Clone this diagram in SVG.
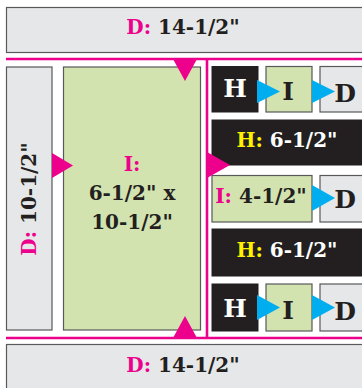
<svg xmlns="http://www.w3.org/2000/svg" width="362" height="388" viewBox="0 0 362 388">
<style>
.gray{fill:#e6e7e8;stroke:#58595b;stroke-width:1.2}
.green{fill:#d3e3b0;stroke:#58595b;stroke-width:1.2}
.black{fill:#231f20;stroke:#231f20;stroke-width:1}
.t{font-family:"DejaVu Serif","Liberation Serif",serif;font-weight:bold;font-size:20px;fill:#231f20;text-anchor:middle}
.w{fill:#ffffff}
.pk{fill:#ec008c}
.yl{fill:#fff200}
.big{font-size:25px}
.pline{stroke:#ec008c;stroke-width:2.6;fill:none}
.tri{fill:#ec008c}
.btri{fill:#00aeef}
</style>
<g id="top-d">
<rect class="gray" x="6.5" y="7.5" width="370" height="45"/>
<text class="t" x="183" y="34"><tspan class="pk">D:</tspan> 14-1/2"</text>
</g>
<g id="left-d">
<rect class="gray" x="6.5" y="67" width="45.5" height="263"/>
<text class="t" transform="translate(36,199) rotate(-90)"><tspan class="pk">D:</tspan> 10-1/2"</text>
</g>
<g id="main-i">
<rect class="green" x="63.5" y="67" width="137" height="263"/>
<text class="t" x="132" y="171"><tspan class="pk">I:</tspan></text>
<text class="t" x="132" y="200">6-1/2" x</text>
<text class="t" x="132" y="229">10-1/2"</text>
</g>
<g id="row1">
<rect class="black" x="212" y="66.5" width="46" height="45.5"/>
<text class="t w big" x="235" y="97">H</text>
<rect class="green" x="266" y="66.5" width="46" height="45.5"/>
<text class="t big" x="288" y="100">I</text>
<rect class="gray" x="320" y="66.5" width="60" height="45.5"/>
<text class="t big" x="345" y="102">D</text>
</g>
<g id="row2">
<rect class="black" x="212" y="120" width="160" height="45"/>
<text class="t w" x="287" y="147"><tspan class="yl">H:</tspan> 6-1/2"</text>
</g>
<g id="row3">
<rect class="green" x="212" y="175.5" width="100" height="46.5"/>
<text class="t" x="261" y="203"><tspan class="pk">I:</tspan> 4-1/2"</text>
<rect class="gray" x="320" y="175.5" width="60" height="46.5"/>
<text class="t big" x="345" y="208">D</text>
</g>
<g id="row4">
<rect class="black" x="212" y="229" width="160" height="47"/>
<text class="t w" x="287" y="257"><tspan class="yl">H:</tspan> 6-1/2"</text>
</g>
<g id="row5">
<rect class="black" x="212" y="284" width="46" height="47"/>
<text class="t w big" x="235" y="317">H</text>
<rect class="green" x="266" y="284" width="46" height="47"/>
<text class="t big" x="288" y="319">I</text>
<rect class="gray" x="320" y="284" width="60" height="47"/>
<text class="t big" x="345" y="320">D</text>
</g>
<g id="bottom-d">
<rect class="gray" x="6.5" y="344.5" width="370" height="50"/>
<text class="t" x="183" y="372"><tspan class="pk">D:</tspan> 14-1/2"</text>
</g>
<g id="connectors">
<line class="pline" x1="6" y1="59" x2="362" y2="59"/>
<line class="pline" x1="6" y1="338" x2="362" y2="338"/>
<line class="pline" x1="207" y1="59" x2="207" y2="338"/>
<polygon class="tri" points="173,59 197,59 185,81"/>
<polygon class="tri" points="173,338 197,338 185,316"/>
<polygon class="tri" points="52,153 52,178 73,165.5"/>
<polygon class="tri" points="207,152 207,178 230,165"/>
<polygon class="btri" points="257,80 257,103 280,91.5"/>
<polygon class="btri" points="312,80 312,103 335,91.5"/>
<polygon class="btri" points="312,185 312,211 335,198"/>
<polygon class="btri" points="257,295 257,320 280,307.5"/>
<polygon class="btri" points="312,295 312,320 335,307.5"/>
</g>
</svg>
